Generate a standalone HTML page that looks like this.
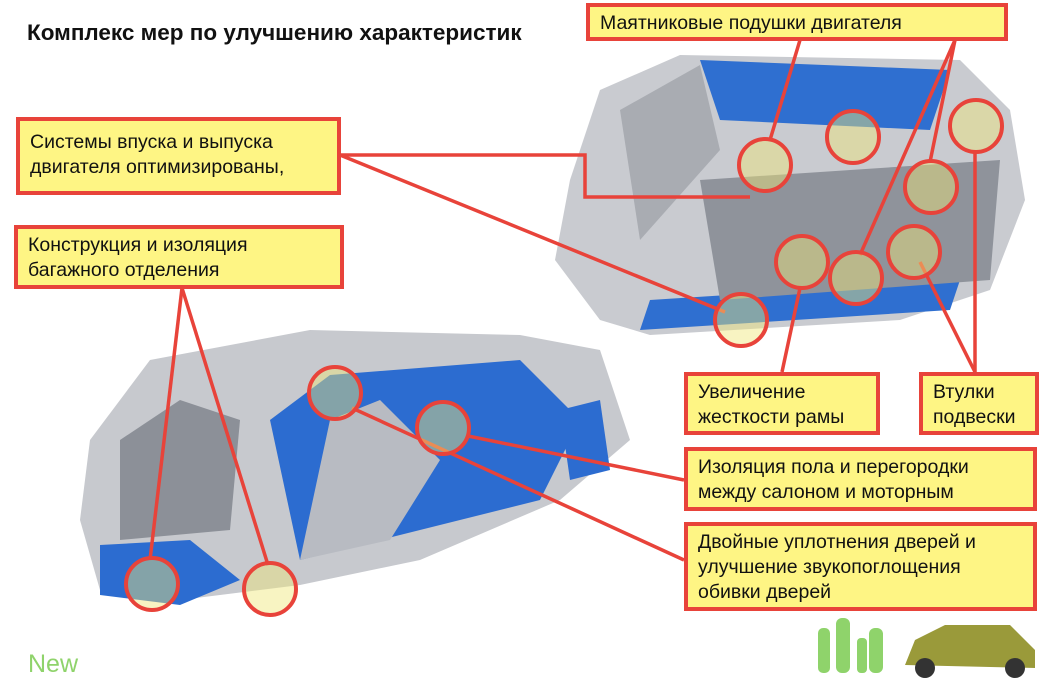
<!DOCTYPE html>
<html><head><meta charset="utf-8"><style>
body{margin:0;width:1050px;height:683px;background:#fff;position:relative;overflow:hidden;font-family:"Liberation Sans",sans-serif}
.t{position:absolute;left:27px;top:20px;font-size:22.5px;font-weight:bold;color:#111;white-space:nowrap}
.b{position:absolute;background:#fef584;border:4px solid #e8433a;box-sizing:border-box;font-size:19.5px;line-height:25px;color:#111;padding:6px 9px;white-space:nowrap}
svg{position:absolute;left:0;top:0}
</style></head><body>
<svg width="1050" height="683">
<polygon points="570,180 600,90 680,55 960,60 1010,110 1025,200 990,290 900,320 650,335 600,320 555,260" fill="#c9cbd0"/>
<polygon points="700,60 950,70 930,130 720,120" fill="#2f6fd0"/>
<polygon points="620,110 700,65 720,150 640,240" fill="#a9acb2"/>
<polygon points="650,300 960,280 950,310 640,330" fill="#2f6fd0"/>
<polygon points="700,180 1000,160 990,280 720,300" fill="#8f939b"/>
<polygon points="90,440 150,360 310,330 520,335 600,350 630,440 560,500 420,560 300,585 180,600 100,590 80,520" fill="#c7c9ce"/>
<polygon points="270,420 330,375 520,360 580,420 540,500 300,560" fill="#2c6cd0"/>
<polygon points="330,420 380,400 440,460 390,540 300,560" fill="#b8bbc2"/>
<polygon points="100,545 190,540 240,580 180,605 100,595" fill="#2c6cd0"/>
<polygon points="120,440 180,400 240,420 230,530 120,540" fill="#8c9098"/>
<polygon points="560,410 600,400 610,470 570,480" fill="#2c6cd0"/>
<g stroke="#e8433a" stroke-width="3.5" fill="none">
<polyline points="340,155 585,155 585,197 750,197"/>
<line x1="340" y1="155" x2="725" y2="312"/>
<line x1="182" y1="288" x2="150" y2="560"/>
<line x1="182" y1="288" x2="268" y2="565"/>
<line x1="800" y1="40" x2="770" y2="140"/>
<line x1="955" y1="40" x2="930" y2="162"/>
<line x1="955" y1="40" x2="860" y2="255"/>
<line x1="782" y1="372" x2="800" y2="288"/>
<line x1="975" y1="372" x2="920" y2="262"/>
<line x1="975" y1="372" x2="975" y2="153"/>
<line x1="684" y1="480" x2="468" y2="436"/>
<line x1="684" y1="560" x2="352" y2="408"/>
</g>
<g stroke="#e8433a" stroke-width="4" fill="rgba(240,230,120,0.45)">
<circle cx="765" cy="165" r="26"/><circle cx="853" cy="137" r="26"/>
<circle cx="931" cy="187" r="26"/><circle cx="976" cy="126" r="26"/>
<circle cx="802" cy="262" r="26"/><circle cx="856" cy="278" r="26"/>
<circle cx="914" cy="252" r="26"/><circle cx="741" cy="320" r="26"/>
<circle cx="335" cy="393" r="26"/><circle cx="443" cy="428" r="26"/>
<circle cx="152" cy="584" r="26"/><circle cx="270" cy="589" r="26"/>
</g>
<g fill="#8fd36b"><rect x="818" y="628" width="12" height="45" rx="5"/><rect x="836" y="618" width="14" height="55" rx="6"/><rect x="857" y="638" width="10" height="35" rx="4"/><rect x="869" y="628" width="14" height="45" rx="6"/></g>
<path d="M905,665 L915,640 L945,625 L1010,625 L1035,650 L1035,668 Z" fill="#9a9a3a"/>
<circle cx="925" cy="668" r="10" fill="#333"/><circle cx="1015" cy="668" r="10" fill="#333"/>
</svg>
<div class="t">Комплекс мер по улучшению характеристик</div>
<div class="b" style="left:586px;top:3px;width:422px;height:38px;padding:4px 10px;line-height:24px">Маятниковые подушки двигателя</div>
<div class="b" style="left:16px;top:117px;width:325px;height:78px;padding:9px 10px">Системы впуска и выпуска<br>двигателя оптимизированы,</div>
<div class="b" style="left:14px;top:225px;width:330px;height:64px;padding:4px 10px">Конструкция и изоляция<br>багажного отделения</div>
<div class="b" style="left:684px;top:372px;width:196px;height:63px;padding:4px 10px">Увеличение<br>жесткости рамы</div>
<div class="b" style="left:919px;top:372px;width:120px;height:63px;padding:4px 10px">Втулки<br>подвески</div>
<div class="b" style="left:684px;top:447px;width:353px;height:64px;padding:4px 10px">Изоляция пола и перегородки<br>между салоном и моторным</div>
<div class="b" style="left:684px;top:522px;width:353px;height:89px;padding:4px 10px">Двойные уплотнения дверей и<br>улучшение звукопоглощения<br>обивки дверей</div>
<div style="position:absolute;left:28px;top:650px;font-size:25px;color:#8fd36b">New</div>
</body></html>
